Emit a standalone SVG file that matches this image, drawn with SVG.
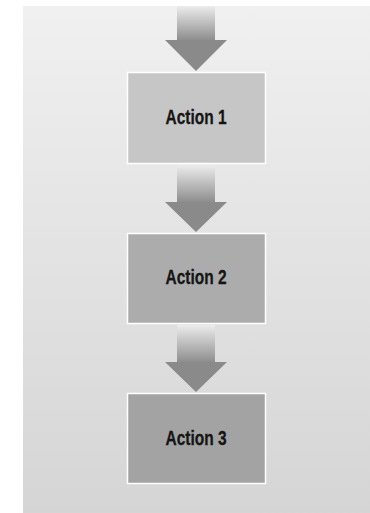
<svg xmlns="http://www.w3.org/2000/svg" width="370" height="513" viewBox="0 0 370 513">
<defs>
<linearGradient id="bg" x1="0" y1="0" x2="0" y2="1">
<stop offset="0" stop-color="#f0f0f0"/>
<stop offset="1" stop-color="#d5d5d5"/>
</linearGradient>
<linearGradient id="shaft" x1="0" y1="0" x2="0" y2="1">
<stop offset="0" stop-color="#ececec"/>
<stop offset="1" stop-color="#8e8e8e"/>
</linearGradient>
</defs>
<style>
.box{stroke:#ffffff;stroke-width:1.5}
.lbl{font-family:"Liberation Sans",Arial,sans-serif;font-weight:bold;font-size:21px;fill:#151515;stroke:#151515;stroke-width:0.3;text-anchor:middle}
.head{fill:#8a8a8a}
</style>
<rect x="23" y="6" width="347" height="507" fill="url(#bg)"/>
<g id="connectors">
<g id="arrow0">
<rect x="177" y="6" width="38" height="34" fill="url(#shaft)"/>
<polygon class="head" points="165,40 227,40 196,71"/>
</g>
<g id="arrow1">
<rect x="177" y="165" width="38" height="37" fill="url(#shaft)"/>
<polygon class="head" points="165,202 227,202 196,232"/>
</g>
<g id="arrow2">
<rect x="177" y="325" width="38" height="37" fill="url(#shaft)"/>
<polygon class="head" points="165,362 227,362 196,392"/>
</g>
</g>
<g id="action1">
<rect class="box" x="127.5" y="72.5" width="138" height="91" fill="#c6c6c6"/>
<text class="lbl" x="196" y="123.5" textLength="61" lengthAdjust="spacingAndGlyphs">Action 1</text>
</g>
<g id="action2">
<rect class="box" x="127.5" y="233.5" width="138" height="90" fill="#acacac"/>
<text class="lbl" x="196" y="284" textLength="61" lengthAdjust="spacingAndGlyphs">Action 2</text>
</g>
<g id="action3">
<rect class="box" x="127.5" y="393.5" width="138" height="90" fill="#a3a3a3"/>
<text class="lbl" x="196" y="445" textLength="61" lengthAdjust="spacingAndGlyphs">Action 3</text>
</g>
</svg>
